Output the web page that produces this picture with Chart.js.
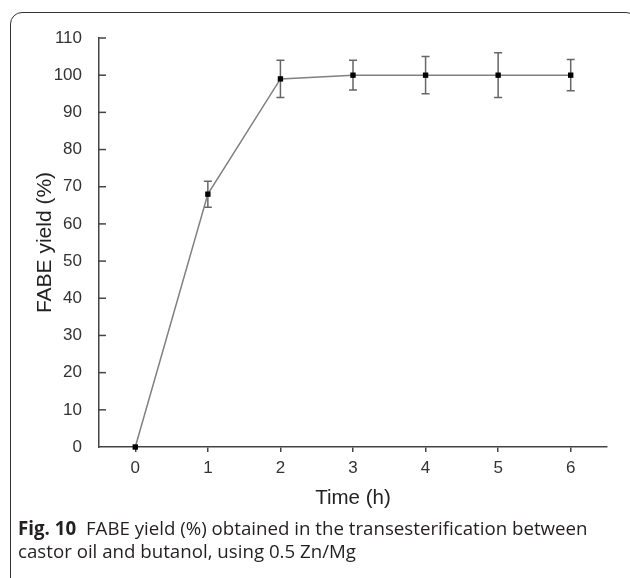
<!DOCTYPE html>
<html>
<head>
<meta charset="utf-8">
<script src="https://cdn.jsdelivr.net/npm/chart.js@4.4.1/dist/chart.umd.min.js"></script>
<style>
  body { margin: 0; width: 630px; height: 578px; overflow: hidden; background: #fff; position: relative; }
  #frame {
    position: absolute; left: 10px; top: 12px; width: 628px; height: 620px;
    box-sizing: border-box; border: 1.5px solid #333; border-radius: 12px;
  }
  #chart { position: absolute; left: 0; top: 0; }
  #caption {
    position: absolute; left: 18px; top: 516px; width: 610px; white-space: nowrap;
    font-family: "Open Sans", sans-serif; font-size: 18.7px; line-height: 23px; color: #231f20;
  }
  #caption b { font-weight: 700; margin-right: 5px; }
</style>
</head>
<body>
<div id="frame"></div>
<canvas id="chart" width="630" height="578"></canvas>
<div id="caption"><b>Fig. 10</b> FABE yield (%) obtained in the transesterification between<br>castor oil and butanol, using 0.5 Zn/Mg</div>

<script>
// Data
const times = [0, 1, 2, 3, 4, 5, 6]
const yields = [0, 68, 99, 100, 100, 100, 100]
const errors = [0, 3.5, 5, 4, 5, 6, 4.2]
const xTicks = [0, 1, 2, 3, 4, 5, 6]
const yTicks = [0, 10, 20, 30, 40, 50, 60, 70, 80, 90, 100, 110]

Chart.defaults.font.family = "'Liberation Sans', Arial, sans-serif"
Chart.defaults.color = "#333"

// error bars, drawn under the points
const errorBars = {
  id: "errorBars",
  beforeDatasetsDraw(chart) {
    const ctx = chart.ctx
    const x = chart.scales.x
    const y = chart.scales.y
    ctx.save()
    ctx.strokeStyle = "#666"
    ctx.lineWidth = 1.5
    times.forEach((t, i) => {
      if (!errors[i]) return
      const px = x.getPixelForValue(t)
      const top = y.getPixelForValue(yields[i] + errors[i])
      const bot = y.getPixelForValue(yields[i] - errors[i])
      ctx.beginPath()
      ctx.moveTo(px, top)
      ctx.lineTo(px, bot)
      ctx.moveTo(px - 4, top)
      ctx.lineTo(px + 4, top)
      ctx.moveTo(px - 4, bot)
      ctx.lineTo(px + 4, bot)
      ctx.stroke()
    })
    ctx.restore()
  },
  // y ticks point inward
  afterDraw(chart) {
    const ctx = chart.ctx
    const y = chart.scales.y
    const left = chart.chartArea.left
    ctx.save()
    ctx.strokeStyle = "#444"
    ctx.lineWidth = 1.5
    yTicks.forEach((v) => {
      if (v === 0) return
      const py = y.getPixelForValue(v)
      ctx.beginPath()
      ctx.moveTo(left, py)
      ctx.lineTo(left + 7, py)
      ctx.stroke()
    })
    ctx.restore()
  },
}

new Chart(document.getElementById("chart"), {
  type: "scatter",
  data: {
    datasets: [
      {
        data: times.map((t, i) => ({ x: t, y: yields[i] })),
        showLine: true,
        borderColor: "#808080",
        borderWidth: 1.5,
        pointStyle: "rect",
        pointRadius: 3.8,
        pointBackgroundColor: "#000",
        pointBorderColor: "#000",
        pointBorderWidth: 0,
        clip: false,
      },
    ],
  },
  options: {
    responsive: false,
    animation: false,
    devicePixelRatio: 1,
    layout: { padding: { left: 0, top: 38, right: 23, bottom: 58 } },
    plugins: { legend: { display: false }, tooltip: { enabled: false } },
    scales: {
      x: {
        type: "linear",
        min: -0.5,
        max: 6.5,
        afterBuildTicks: (s) => { s.ticks = xTicks.map((v) => ({ value: v })) },
        afterFit: (s) => { s.height = 73 },
        grid: { drawOnChartArea: false, drawTicks: true, tickLength: 5, color: "#444", lineWidth: 1.5 },
        border: { display: true, color: "#444", width: 1.5 },
        ticks: { font: { size: 17 }, padding: 6, maxRotation: 0 },
        title: { display: true, text: "Time (h)", font: { size: 20.5 }, color: "#222", padding: { bottom: 9.2 } },
      },
      y: {
        min: 0,
        max: 110,
        afterBuildTicks: (s) => { s.ticks = yTicks.map((v) => ({ value: v })) },
        afterFit: (s) => { s.width = 99 },
        grid: { display: false },
        border: { display: true, color: "#444", width: 1.5 },
        ticks: { font: { size: 17 }, padding: 9 },
        title: { display: true, text: "FABE yield (%)", font: { size: 21 }, color: "#222", padding: { top: 33 } },
      },
    },
  },
  plugins: [errorBars],
})
</script>
</body>
</html>
